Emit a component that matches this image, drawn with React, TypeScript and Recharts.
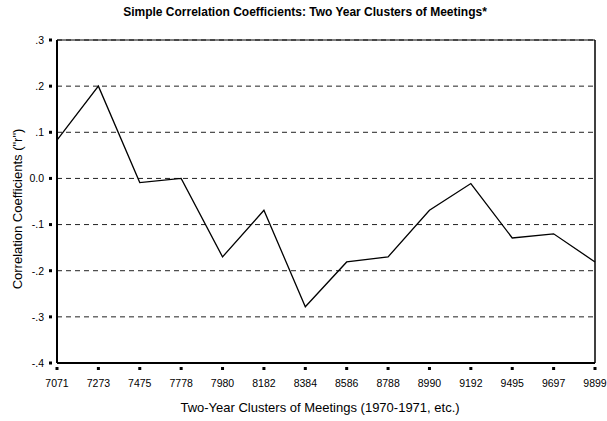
import { LineChart, Line, XAxis, YAxis, CartesianGrid, ReferenceLine } from 'recharts'

const clusters = ['7071', '7273', '7475', '7778', '7980', '8182', '8384', '8586', '8788', '8990', '9192', '9495', '9697', '9899']
const coefficients = [0.083, 0.2, -0.009, 0.0, -0.17, -0.069, -0.278, -0.181, -0.17, -0.069, -0.011, -0.129, -0.12, -0.181]
const yTicks = [-0.4, -0.3, -0.2, -0.1, 0, 0.1, 0.2, 0.3]
const yTickLabels = ['-.4', '-.3', '-.2', '-.1', '0.0', '.1', '.2', '.3']

const data = clusters.map((c, i) => ({ cluster: c, r: coefficients[i] }))

const font = '"Liberation Sans", Arial, sans-serif'

const YTick = (props: any) => {
    const { x, y, payload } = props
    const idx = yTicks.findIndex((t) => Math.abs(t - payload.value) < 1e-9)
    return (
        <g>
            <rect x={x} y={y - 1.5} width={3} height={3} fill="#000" />
            <text x={x - 5} y={y} dy={3.8} textAnchor="end" fontSize={10.5} fill="#000" fontFamily={font}>
                {idx >= 0 ? yTickLabels[idx] : payload.value}
            </text>
        </g>
    )
}

const XTick = (props: any) => {
    const { x, y, payload } = props
    return (
        <g>
            <rect x={x - 1.5} y={y - 4} width={3} height={3} fill="#000" />
            <text x={x} y={y + 16} textAnchor="middle" fontSize={10.5} fill="#000" fontFamily={font}>
                {payload.value}
            </text>
        </g>
    )
}

export default function App() {
    return (
        <div style={{ position: 'absolute', left: 0, top: 0, width: 607, height: 421, background: '#fff', fontFamily: font }}>
            <div style={{ position: 'absolute', top: 5, left: 305, transform: 'translateX(-50%)', whiteSpace: 'nowrap', fontSize: 12, fontWeight: 'bold' }}>
                Simple Correlation Coefficients: Two Year Clusters of Meetings*
            </div>
            <div style={{ position: 'absolute', top: 400, left: 320, transform: 'translateX(-50%)', whiteSpace: 'nowrap', fontSize: 13 }}>
                Two-Year Clusters of Meetings (1970-1971, etc.)
            </div>
            <div
                style={{
                    position: 'absolute',
                    left: 17,
                    top: 209,
                    transform: 'translate(-50%, -50%) rotate(-90deg)',
                    whiteSpace: 'nowrap',
                    fontSize: 13,
                }}
            >
                Correlation Coefficients ("r")
            </div>
            <LineChart width={607} height={421} data={data} margin={{ top: 40, right: 12, left: 17, bottom: 38 }} style={{ position: 'absolute', left: 0, top: 0 }}>
                <CartesianGrid horizontal vertical={false} stroke="#222" strokeDasharray="5 4" strokeWidth={1} />
                <ReferenceLine y={0.3} stroke="#000" strokeWidth={1} />
                <ReferenceLine x="9899" stroke="#000" strokeWidth={1.5} />
                <XAxis
                    dataKey="cluster"
                    height={20}
                    padding={{ left: 0, right: 0 }}
                    axisLine={{ stroke: '#000', strokeWidth: 2 }}
                    tickLine={false}
                    tick={<XTick />}
                    interval={0}
                />
                <YAxis
                    type="number"
                    domain={[-0.4, 0.3]}
                    ticks={yTicks}
                    width={40}
                    axisLine={{ stroke: '#000', strokeWidth: 2 }}
                    tickLine={false}
                    tick={<YTick />}
                    interval={0}
                />
                <Line type="linear" dataKey="r" stroke="#000" strokeWidth={1.3} dot={false} isAnimationActive={false} />
            </LineChart>
        </div>
    )
}
